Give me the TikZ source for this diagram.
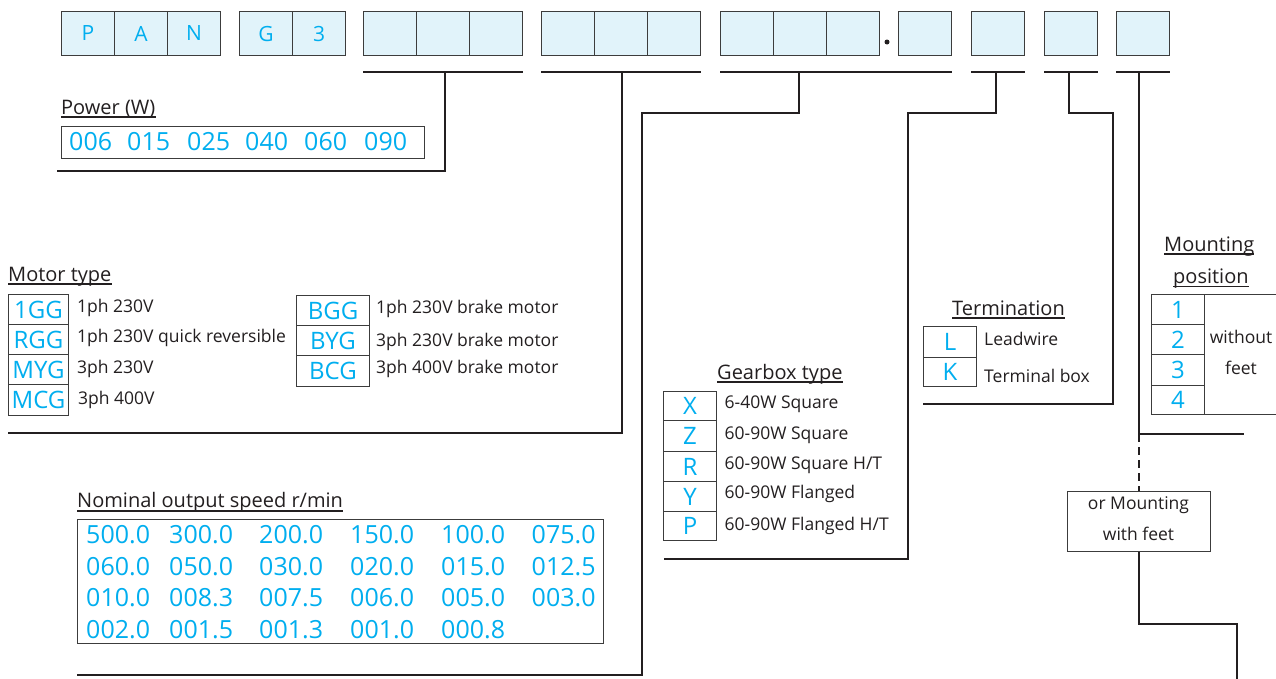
\documentclass[tikz,border=0pt]{standalone}
\usepackage{fontspec}
\setmainfont{Open Sans}
\definecolor{cy}{HTML}{00AEEF}
\definecolor{bx}{HTML}{E1F3FA}
\definecolor{ln}{HTML}{231F20}
\definecolor{bd}{HTML}{3C3C3C}
\begin{document}
\begin{tikzpicture}[x=1pt,y=-1pt,
  cell/.style={draw=bd,line width=1pt,fill=bx,minimum width=53pt,minimum height=44pt,inner sep=0pt,anchor=north west,text=cy,font=\fontsize{21}{24}\selectfont},
  bar/.style={draw=ln,line width=2.8pt},
  conn/.style={draw=ln,line width=2.6pt,line join=miter},
  code/.style={draw=bd,line width=1pt,inner sep=0pt,anchor=north west,text=cy,font=\fontsize{24}{28}\selectfont,minimum height=30pt},
  txt/.style={inner sep=0pt,anchor=base west,text=ln,font=\fontsize{17.5}{20}\selectfont},
  head/.style={inner sep=0pt,anchor=base west,text=ln,font=\fontsize{20}{24}\selectfont},
  num/.style={inner sep=0pt,anchor=base west,text=cy,font=\fontsize{25}{30}\selectfont},
  ul/.style={draw=ln,line width=1.3pt},
  frame/.style={draw=bd,line width=1pt,inner sep=0pt,anchor=north west}
]
\useasboundingbox (0,0) rectangle (1276,678);
\fill[white] (0,0) rectangle (1276,678);
\clip (0,0) rectangle (1276,678);

% top code cells
\node[cell] (p1) at (61,11) {\raisebox{-3pt}{P}};
\node[cell] (p2) at (114,11) {\raisebox{-3pt}{A}};
\node[cell] (p3) at (167,11) {\raisebox{-3pt}{N}};
\node[cell] (g1) at (239,11) {\raisebox{-3pt}{G}};
\node[cell] (g2) at (292,11) {\raisebox{-3pt}{3}};
\node[cell] (w1) at (363,11) {};
\node[cell] (w2) at (416,11) {};
\node[cell] (w3) at (469,11) {};
\node[cell] (m1) at (541,11) {};
\node[cell] (m2) at (594,11) {};
\node[cell] (m3) at (647,11) {};
\node[cell] (s1) at (720,11) {};
\node[cell] (s2) at (773,11) {};
\node[cell] (s3) at (826,11) {};
\node[circle,fill=ln,inner sep=0pt,minimum size=5pt] (dot) at (887,42) {};
\node[cell] (s4) at (898,11) {};
\node[cell] (t1) at (971,11) {};
\node[cell] (f1) at (1044,11) {};
\node[cell] (o1) at (1116,11) {};

% bars
\coordinate (barY) at (0,72);
\draw[bar] (w1.south west |- barY) -- (w3.south east |- barY);
\draw[bar] (m1.south west |- barY) -- (m3.south east |- barY);
\draw[bar] (s1.south west |- barY) -- (s4.south east |- barY);
\draw[bar] (t1.south west |- barY) -- (t1.south east |- barY);
\draw[bar] (f1.south west |- barY) -- (f1.south east |- barY);
\draw[bar] (o1.south west |- barY) -- (o1.south east |- barY);

% connector points
\coordinate (bW) at (445,72);
\coordinate (eW) at (57,171);
\coordinate (bM) at (622,72);
\coordinate (eM) at (8,433);
\coordinate (bS) at (799,72);
\coordinate (kS) at (642,113);
\coordinate (eS) at (77,675);
\coordinate (bG) at (996,72);
\coordinate (kG) at (908,113);
\coordinate (eG) at (664,559);
\coordinate (bT) at (1069,72);
\coordinate (kT) at (1113,113);
\coordinate (eT) at (923,404);
\coordinate (bO) at (1139,72);
\coordinate (jO) at (1139,434);
\coordinate (eO) at (1244,434);
\coordinate (kO) at (1237,624);
\coordinate (zO) at (1237,682);

\draw[conn] (bW) |- (eW);
\draw[conn] (bM) |- (eM);
\draw[conn] (bS) |- (kS) |- (eS);
\draw[conn] (bG) |- (kG) |- (eG);
\draw[conn] (bT) |- (kT) |- (eT);
\draw[conn] (bO) |- (eO);

% power
\node[head] (pwl) at (61,114) {Power (W)};
\draw[ul] ([yshift=-3pt]pwl.base west) -- ([yshift=-3pt]pwl.base east);
\node[frame,minimum width=363pt,minimum height=32pt] (pw) at (61,126) {};
\foreach \x/\t in {69/006,127/015,187/025,245/040,304/060,364/090}
  \node[num] (pw\t) at (\x,150) {\t};

% motor type
\node[head] (mtl) at (8,281) {Motor type};
\draw[ul] ([yshift=-3pt]mtl.base west) -- ([yshift=-3pt]mtl.base east);
\node[code,minimum width=60pt] (c1) at (8,294) {1GG};
\node[code,minimum width=60pt] (c2) at (8,324) {RGG};
\node[code,minimum width=60pt] (c3) at (8,354) {MYG};
\node[code,minimum width=60pt,minimum height=31pt] (c4) at (8,384) {MCG};
\node[txt] (d1) at (77,312) {1ph 230V};
\node[txt] (d2) at (77,342) {1ph 230V quick reversible};
\node[txt] (d3) at (77,373) {3ph 230V};
\node[txt] (d4) at (78,404) {3ph 400V};
\node[code,minimum width=73pt] (c5) at (296,295) {BGG};
\node[code,minimum width=73pt] (c6) at (296,325) {BYG};
\node[code,minimum width=73pt,minimum height=31pt] (c7) at (296,355) {BCG};
\node[txt] (d5) at (376,313) {1ph 230V brake motor};
\node[txt] (d6) at (376,346) {3ph 230V brake motor};
\node[txt] (d7) at (376,373) {3ph 400V brake motor};

% gearbox
\node[head] (gbl) at (717,379) {Gearbox type};
\draw[ul] ([yshift=-3pt]gbl.base west) -- ([yshift=-3pt]gbl.base east);
\node[code,minimum width=53pt,minimum height=29pt] (gx) at (663,391) {X};
\node[code,minimum width=53pt,minimum height=31pt] (gz) at (663,420) {Z};
\node[code,minimum width=53pt] (gr) at (663,451) {R};
\node[code,minimum width=53pt] (gy) at (663,481) {Y};
\node[code,minimum width=53pt,minimum height=29pt] (gp) at (663,511) {P};
\node[txt] (e1) at (724.5,408) {6-40W Square};
\node[txt] (e2) at (724.5,439) {60-90W Square};
\node[txt] (e3) at (724.5,469) {60-90W Square H/T};
\node[txt] (e4) at (724.5,498) {60-90W Flanged};
\node[txt] (e5) at (724.5,530) {60-90W Flanged H/T};

% termination
\node[head] (tml) at (952,315) {Termination};
\draw[ul] ([yshift=-3pt]tml.base west) -- ([yshift=-3pt]tml.base east);
\node[code,minimum width=53pt,minimum height=31pt] (tl) at (923,326) {L};
\node[code,minimum width=53pt,minimum height=29pt] (tk) at (923,357) {K};
\node[txt] (f1t) at (984,345) {Leadwire};
\node[txt] (f2t) at (984,382) {Terminal box};

% mounting position
\node[head] (mpl1) at (1164,251) {Mounting};
\draw[ul] ([yshift=-3pt]mpl1.base west) -- ([yshift=-3pt]mpl1.base east);
\node[head] (mpl2) at (1173,283) {position};
\draw[ul] ([yshift=-3.5pt]mpl2.base west) -- ([yshift=-3.5pt]mpl2.base east);
\node[code,minimum width=53pt] (o1c) at (1151,294) {1};
\node[code,minimum width=53pt] (o2c) at (1151,324) {2};
\node[code,minimum width=53pt,minimum height=31pt] (o3c) at (1151,354) {3};
\node[code,minimum width=53pt,minimum height=29pt] (o4c) at (1151,385) {4};
\node[frame,minimum width=90pt,minimum height=120pt] (wof) at (1204,294) {};
\node[txt,anchor=base] (wo1) at (1241,343) {without};
\node[txt,anchor=base] (wo2) at (1241,374) {feet};

% mounting with feet
\node[frame,minimum width=143pt,minimum height=60pt] (mf) at (1067,491) {};
\node[txt,anchor=base] (mf1) at (1138.5,509) {or Mounting};
\node[txt,anchor=base] (mf2) at (1138.5,540) {with feet};
\draw[conn,dashed,dash pattern=on 8pt off 5pt] (jO) -- (jO |- mf.north);
\draw[conn] (jO |- mf.south) |- (kO) -- (zO);

% speed
\node[head] (spl) at (77,507) {Nominal output speed r/min};
\draw[ul] ([yshift=-4pt]spl.base west) -- ([yshift=-4pt]spl.base east);
\node[frame,minimum width=526pt,minimum height=124pt] (sp) at (77,519) {};
\foreach \t [count=\i from 0] in {500.0,300.0,200.0,150.0,100.0,075.0,060.0,050.0,030.0,020.0,015.0,012.5,010.0,008.3,007.5,006.0,005.0,003.0,002.0,001.5,001.3,001.0,000.8}{
  \pgfmathtruncatemacro{\cc}{mod(\i,6)}
  \pgfmathtruncatemacro{\rr}{div(\i,6)}
  \pgfmathsetmacro{\xx}{{86,169,259,350,441,531.5}[\cc]}
  \pgfmathsetmacro{\yy}{{543,575,606,638}[\rr]}
  \node[num] (sp\i) at (\xx,\yy) {\t};
}
\end{tikzpicture}
\end{document}
